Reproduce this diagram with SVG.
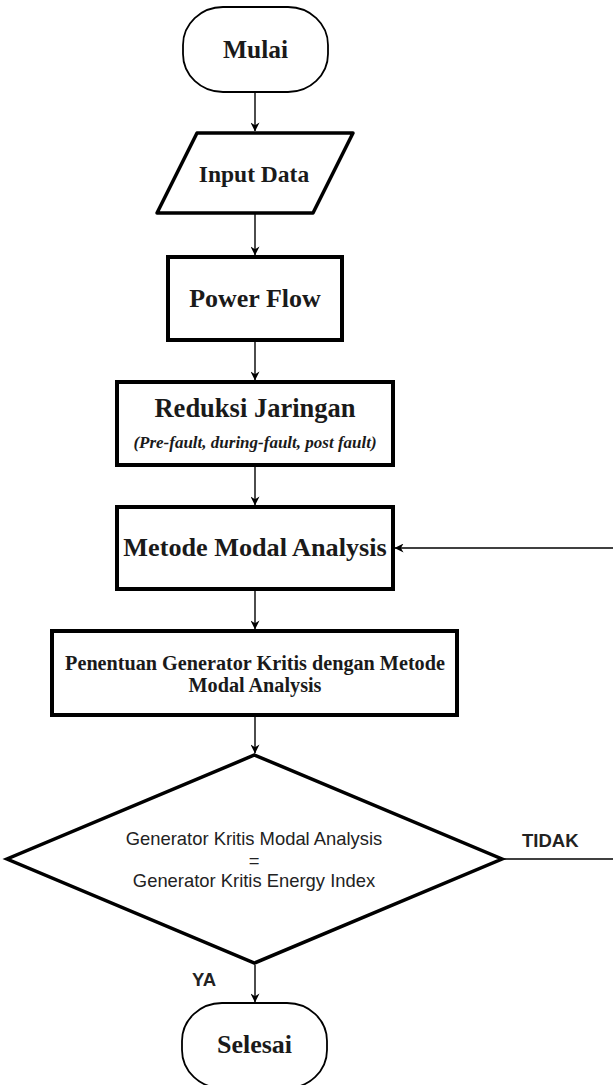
<svg xmlns="http://www.w3.org/2000/svg" width="613" height="1085" viewBox="0 0 613 1085">
<style>
.bg{fill:#ffffff}
.term{fill:#ffffff;stroke:#000000;stroke-width:1.8}
.box{fill:#ffffff;stroke:#000000;stroke-width:4}
.dia{fill:#ffffff;stroke:#000000;stroke-width:3.5;stroke-linejoin:miter}
.para{fill:#ffffff;stroke:#000000;stroke-width:3.5;stroke-linejoin:round}
.serif{font-family:"Liberation Serif","Times New Roman",serif;font-weight:bold;fill:#1a1a1a;text-anchor:middle}
.sub{font-family:"Liberation Serif","Times New Roman",serif;font-weight:bold;font-style:italic;fill:#1a1a1a;text-anchor:middle}
.sans{font-family:"Liberation Sans",Arial,sans-serif;fill:#222222;text-anchor:middle}
.lbl{font-family:"Liberation Sans",Arial,sans-serif;font-weight:bold;fill:#222222}
.edge{fill:none;stroke:#000000;stroke-width:1.4}
</style>
<defs>
<marker id="arr" viewBox="0 0 10 10" refX="9.5" refY="5" markerWidth="9" markerHeight="9" markerUnits="userSpaceOnUse" orient="auto">
<path d="M0,0 L10,5 L0,10 L3,5 z" fill="#000000"/>
</marker>
</defs>
<rect class="bg" x="0" y="0" width="613" height="1085"/>

<g id="connectors">
<line class="edge" x1="255" y1="93" x2="255" y2="131" marker-end="url(#arr)"/>
<line class="edge" x1="255" y1="214" x2="255" y2="255" marker-end="url(#arr)"/>
<line class="edge" x1="255" y1="342" x2="255" y2="380" marker-end="url(#arr)"/>
<line class="edge" x1="255" y1="467" x2="255" y2="505" marker-end="url(#arr)"/>
<line class="edge" x1="255" y1="591" x2="255" y2="629" marker-end="url(#arr)"/>
<line class="edge" x1="255" y1="717" x2="255" y2="753" marker-end="url(#arr)"/>
<line class="edge" x1="255" y1="965" x2="255" y2="1002" marker-end="url(#arr)"/>
<line class="edge" x1="613" y1="548" x2="395" y2="548" marker-end="url(#arr)"/>
<line class="edge" x1="503" y1="859" x2="613" y2="859"/>
<text class="lbl" x="522" y="847" font-size="18.5">TIDAK</text>
<text class="lbl" x="192" y="986" font-size="18.5">YA</text>
</g>

<g id="mulai">
<rect class="term" x="183" y="7" width="145" height="85" rx="40" ry="38"/>
<text class="serif" x="255.5" y="58" font-size="25.5">Mulai</text>
</g>

<g id="input-data">
<path class="para" d="M197,133 L353,133 L313,213 L157,213 Z"/>
<text class="serif" x="254" y="182" font-size="23.5">Input Data</text>
</g>

<g id="power-flow">
<rect class="box" x="168" y="257" width="174" height="83"/>
<text class="serif" x="255" y="307" font-size="26">Power Flow</text>
</g>

<g id="reduksi-jaringan">
<rect class="box" x="117" y="382" width="276" height="83"/>
<text class="serif" x="255" y="417" font-size="26.5">Reduksi Jaringan</text>
<text class="sub" x="255" y="448" font-size="17">(Pre-fault, during-fault, post fault)</text>
</g>

<g id="metode-modal-analysis">
<rect class="box" x="117" y="507" width="276" height="82"/>
<text class="serif" x="255" y="556" font-size="26.2">Metode Modal Analysis</text>
</g>

<g id="penentuan">
<rect class="box" x="52" y="631" width="405" height="84"/>
<text class="serif" x="255" y="670" font-size="20.2">Penentuan Generator Kritis dengan Metode</text>
<text class="serif" x="255" y="692" font-size="20.2">Modal Analysis</text>
</g>

<g id="keputusan">
<path class="dia" d="M254.5,755 L502,859 L254.5,963 L7,859 Z"/>
<text class="sans" x="254" y="845" font-size="18.4">Generator Kritis Modal Analysis</text>
<text class="sans" x="254" y="867" font-size="18.4">=</text>
<text class="sans" x="254" y="887" font-size="18.4">Generator Kritis Energy Index</text>
</g>

<g id="selesai">
<rect class="term" x="182" y="1003" width="145" height="85" rx="40" ry="38"/>
<text class="serif" x="254.5" y="1053" font-size="26">Selesai</text>
</g>
</svg>
